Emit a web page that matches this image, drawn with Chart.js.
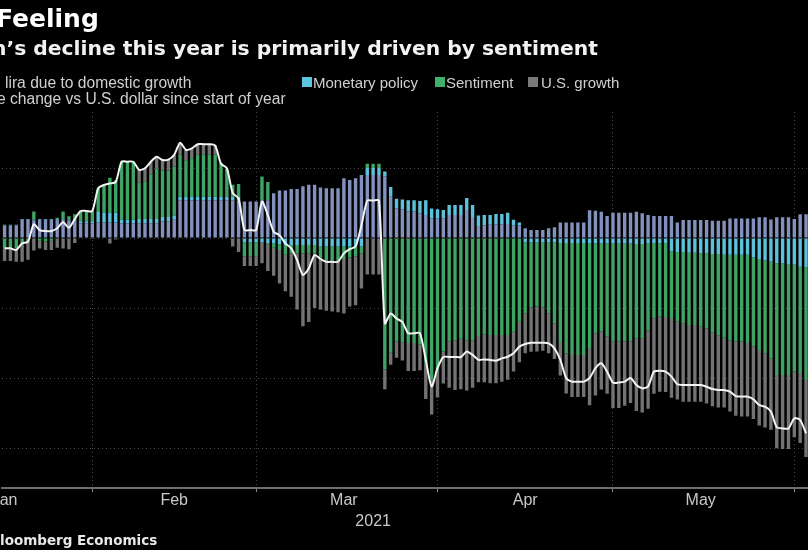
<!DOCTYPE html>
<html><head><meta charset="utf-8">
<script src="https://cdn.jsdelivr.net/npm/chart.js@4.4.1/dist/chart.umd.min.js"></script>
<style>
html,body{margin:0;padding:0;background:#000;}
#wrap{position:relative;width:808px;height:550px;overflow:hidden;background:#000;}
canvas{position:absolute;left:-20px;top:0;}
.t{position:absolute;white-space:nowrap;line-height:1;}
.bold{font-family:"DejaVu Sans",sans-serif;font-weight:bold;}
.leg{font-family:"Liberation Sans",Arial,sans-serif;font-size:15px;color:#d0d0d0;}
.legl{font-family:"Liberation Sans",Arial,sans-serif;font-size:15.6px;color:#d0d0d0;}
.sq{position:absolute;width:10px;height:10px;}
</style></head>
<body><div id="wrap">
<canvas id="c" width="850" height="550" style="width:850px;height:550px"></canvas>
<div class="t bold" style="left:-4px;top:5.8px;font-size:25px;color:#fff;">Feeling</div>
<div class="t bold" style="left:-8px;top:37.8px;font-size:20.3px;color:#f2f2f2;">n’s decline this year is primarily driven by sentiment</div>
<div class="t legl" style="left:5px;top:74.8px;">lira due to domestic growth</div>
<div class="t legl" style="left:-3px;top:90.8px;">e change vs U.S. dollar since start of year</div>
<div class="sq" style="left:302px;top:77px;background:#5cc6e0;"></div>
<div class="t leg" style="left:313px;top:75.3px;">Monetary policy</div>
<div class="sq" style="left:435px;top:77px;background:#3fb069;"></div>
<div class="t leg" style="left:446px;top:75.3px;">Sentiment</div>
<div class="sq" style="left:528px;top:77px;background:#7a7a7a;"></div>
<div class="t leg" style="left:541px;top:75.3px;">U.S. growth</div>
<div class="t bold" style="left:0px;top:533.6px;font-size:13.5px;color:#e8e8e8;">loomberg Economics</div>
</div>
<script>
// Categories: daily dates from 2021-01-17 to 2021-06-03
const startDate = '2021-01-17';
const dayCount = 138;
const labels = [];
(function(){
  const s = new Date(startDate + 'T00:00:00Z');
  for (let i = 0; i < dayCount; i++) {
    const d = new Date(s.getTime() + i * 86400000);
    labels.push(d.toISOString().slice(0, 10));
  }
})();

// Contribution to lira change (%)
const domestic = [
 .9,.9,.9,1.3,1.3,1.25,1.3,1.3,1.3,1.3,1.3,1.25,1.2,1.05,1.05,1.05,1.1,1.1,1.1,1.1,
 1.05,1.05,1.05,1.05,1.05,1.05,1.05,1.2,1.2,1.3,2.7,2.7,2.7,2.7,2.7,2.7,2.7,2.7,2.7,2.7,
 2.7,2.6,2.6,2.6,2.7,2.7,3.2,3.4,3.4,3.5,3.5,3.7,3.8,3.8,3.6,3.55,3.55,3.55,4.26,4.14,
 4.26,4.5,4.5,4.5,4.5,4.4,2.95,2.1,2.05,1.9,1.9,1.75,1.65,1.4,1.4,1.4,1.65,1.65,1.65,2.0,
 1.5,.8,.9,.94,.96,.96,1.0,.9,.9,.69,.57,.57,.57,.69,.76,1.1,1.1,1.1,1.1,1.1,
 1.98,1.95,1.88,1.57,1.81,1.81,1.81,1.81,1.88,1.76,1.64,1.57,1.57,1.57,1.57,1.1,1.29,1.29,1.29,1.29,
 1.29,1.24,1.24,1.24,1.4,1.4,1.4,1.4,1.4,1.48,1.48,1.33,1.48,1.48,1.48,1.36,1.7,1.7];
const monetary = [
 .05,.05,.05,.05,.05,.05,.05,.05,.05,.05,.05,.05,.1,.15,.15,.15,.75,.7,.7,.7,
 .25,.25,.25,.3,.3,.3,.3,.3,.3,.3,.25,.25,.25,.25,.25,.25,.25,.25,.25,.25,
 .25,-.3,-.3,-.3,-.3,-.35,-.4,-.45,-.5,-.5,-.5,-.5,-.5,-.5,-.6,-.6,-.6,-.6,-.6,-.6,
 -.6,-.6,.5,.5,.5,.35,.7,.7,.7,.8,.8,.9,1.05,.7,.65,.6,.7,.7,.7,.85,
 .85,.8,.75,.7,.75,.75,.8,.4,.2,-.33,-.33,-.33,-.33,-.33,-.33,-.35,-.35,-.35,-.35,-.35,
 -.4,-.4,-.4,-.4,-.4,-.4,-.4,-.4,-.42,-.42,-.4,-.38,-.38,-.4,-.95,-1.0,-1.0,-1.05,-1.05,-1.1,
 -1.1,-1.15,-1.15,-1.2,-1.2,-1.2,-1.2,-1.2,-1.4,-1.5,-1.6,-1.7,-1.8,-1.8,-1.85,-1.9,-2.05,-2.1];
const sentiment = [
 -.75,-.7,-.75,-.4,-.3,.6,-.2,-.25,-.2,.1,.55,.25,.4,.75,.75,.75,1.7,2.0,2.5,2.3,
 4.15,4.15,4.15,2.6,2.7,3.2,3.6,3.3,3.3,3.5,3.0,2.6,2.75,3.0,3.0,3.0,3.0,2.4,2.0,.85,
 .9,-1.0,-1.0,-1.0,1.7,1.3,-.3,-.4,-.7,-.6,-.6,-.6,-.6,-.6,-.8,-1.0,-1.0,-1.1,-.9,-.8,
 -.7,-.5,.3,.3,.3,-9.4,-8.2,-7.4,-7.45,-7.5,-7.5,-7.6,-8.9,-10.1,-9.4,-8.1,-7.4,-7.3,-7.2,-7.3,
 -7.3,-7.0,-6.9,-6.93,-6.93,-6.93,-6.93,-6.69,-5.98,-5.05,-4.62,-4.57,-4.62,-5.05,-5.76,-7.07,-7.9,-8.0,-8.0,-8.0,
 -7.45,-6.4,-6.26,-6.62,-6.98,-6.98,-6.98,-6.98,-6.74,-6.74,-6.2,-5.36,-5.24,-5.24,-4.76,-4.98,-5.1,-5.17,-5.17,-5.24,
 -5.36,-5.62,-5.8,-5.9,-6.1,-6.2,-6.2,-6.3,-6.33,-6.5,-6.64,-6.9,-7.98,-7.98,-7.93,-7.64,-7.6,-8.05];
const usGrowth = [
 -.9,-.95,-.95,-1.3,-1.25,-.9,-.55,-.6,-.65,-.7,-.75,-.8,-.35,0,0,-.05,0,0,-.4,-.1,
 0,0,0,.9,.9,.9,.85,.8,.8,.85,.85,.75,.7,.75,.75,.75,.65,0,0,-.6,
 -1.0,-.7,-.7,-.7,-1.5,-2.0,-2.0,-2.4,-2.6,-3.1,-4.0,-5.2,-4.9,-3.9,-3.7,-3.6,-3.65,-3.6,-3.9,-3.5,
 -3.5,-2.5,-2.6,-2.6,-2.6,-1.4,-.85,-1.15,-1.3,-2.0,-2.0,-1.85,-2.6,-2.5,-2.0,-2.3,-3.3,-3.55,-3.6,-3.6,
 -3.4,-3.3,-3.4,-3.45,-3.45,-3.33,-3.2,-2.85,-2.9,-2.86,-3.17,-3.2,-3.1,-2.85,-2.55,-2.4,-2.85,-3.0,-3.0,-3.0,
 -4.1,-4.45,-4.17,-4.1,-4.76,-4.76,-4.6,-4.4,-5.2,-5.3,-5.6,-5.38,-5.36,-5.36,-5.7,-5.55,-5.6,-5.48,-5.48,-5.36,
 -5.36,-5.24,-5.15,-5.0,-5.1,-5.3,-5.35,-5.25,-5.2,-5.4,-5.3,-5.1,-5.24,-5.3,-5.3,-4.7,-5.0,-5.5];
// Lira percentage change vs U.S. dollar since start of year
const liraChange = [
 -.74,-.74,-.85,-.38,-.26,.98,.57,.5,.5,.7,1.12,.74,1.35,1.93,1.93,1.93,3.55,3.79,3.9,4.0,
 5.45,5.45,5.45,4.86,4.98,5.45,5.8,5.57,5.6,5.95,6.8,6.3,6.4,6.7,6.7,6.7,6.6,5.3,4.98,3.2,
 2.83,.57,.57,.57,2.6,1.64,.45,.2,-.38,-.74,-1.57,-2.64,-2.17,-1.21,-1.5,-1.7,-1.7,-1.7,-1.1,-.8,
 -.6,.9,2.67,2.67,2.67,-6.1,-5.4,-5.75,-6.0,-6.8,-6.8,-6.8,-8.7,-10.6,-9.3,-8.5,-8.5,-8.5,-8.5,-8.1,
 -8.35,-8.7,-8.67,-8.71,-8.76,-8.6,-8.48,-8.24,-7.76,-7.57,-7.48,-7.48,-7.48,-7.52,-7.88,-8.71,-10.0,-10.26,-10.26,-10.26,
 -10.0,-9.3,-8.95,-9.55,-10.33,-10.33,-10.26,-10.0,-10.5,-10.74,-10.6,-9.55,-9.48,-9.55,-9.9,-10.45,-10.5,-10.5,-10.5,-10.5,
 -10.62,-10.79,-10.86,-10.86,-10.98,-11.29,-11.33,-11.33,-11.52,-11.93,-12.05,-12.4,-13.52,-13.6,-13.6,-12.88,-13.0,-13.95];

// Axis labels
const monthBoundaries = ['2021-02-01','2021-03-01','2021-04-01','2021-05-01','2021-06-01'];
const monthTickDates = ['2021-01-17','2021-02-15','2021-03-16','2021-04-16','2021-05-16'];
const monthTickText = ['Jan','Feb','Mar','Apr','May'];
const yearTickDate = '2021-03-21';
const yearTickText = '2021';
const yGridValues = [5, 0, -5, -10, -15];

const gridCol = '#4a4a4a';
const barCommon = {type:'bar', order:1, borderWidth:0, categoryPercentage:1.0, barPercentage:0.58};

new Chart(document.getElementById('c'), {
  type: 'bar',
  data: {
    labels: labels,
    datasets: [
      Object.assign({label:'Domestic growth', data: domestic, backgroundColor:'#8391bd'}, barCommon),
      Object.assign({label:'Monetary policy', data: monetary, backgroundColor:'#5cc2dc'}, barCommon),
      Object.assign({label:'Sentiment', data: sentiment, backgroundColor:'#3fa463'}, barCommon),
      Object.assign({label:'U.S. growth', data: usGrowth, backgroundColor:'#737373'}, barCommon),
      {type:'line', label:'Lira', data: liraChange, order:0, stack:'line',
       borderColor:'#f4f4f4', borderWidth:2, pointRadius:0, tension:0.25, fill:false}
    ]
  },
  options: {
    responsive:false, animation:false, devicePixelRatio:1,
    layout:{padding:{top:112, left:21.65, right:21.05, bottom:0}},
    plugins:{legend:{display:false}, tooltip:{enabled:false}},
    scales:{
      x:{
        stacked:true, offset:true,
        grid:{offset:false, drawOnChartArea:true, drawTicks:true, tickLength:4, lineWidth:1,
          color:(ctx)=> monthBoundaries.includes(labels[ctx.index]) ? gridCol : 'rgba(0,0,0,0)',
          tickColor:(ctx)=> monthBoundaries.includes(labels[ctx.index]) ? '#8a8a8a' : 'rgba(0,0,0,0)',
          borderDash:[1,3]},
        border:{display:true, color:'#6e6e6e', width:2, dash:[1,3]},
        ticks:{autoSkip:false, maxRotation:0, minRotation:0, padding:-2, color:'#c8c8c8',
          font:{family:'"Liberation Sans", Arial, sans-serif', size:16, lineHeight:1.3},
          callback:(v, i)=>{
            const lab = labels[i];
            const k = monthTickDates.indexOf(lab);
            if (k >= 0) return monthTickText[k];
            if (lab === yearTickDate) return ['', yearTickText];
            return '';
          }},
        afterFit:(s)=>{ s.height = 62; }
      },
      y:{
        stacked:true, min:-17.857, max:9,
        afterBuildTicks:(s)=>{ s.ticks = yGridValues.map(v=>({value:v})); },
        grid:{color:gridCol, lineWidth:1, drawTicks:false, borderDash:[1,3]},
        border:{display:false, dash:[1,3]},
        ticks:{display:false},
        afterFit:(s)=>{ s.width = 0; }
      }
    }
  }
});
</script>
</body></html>
